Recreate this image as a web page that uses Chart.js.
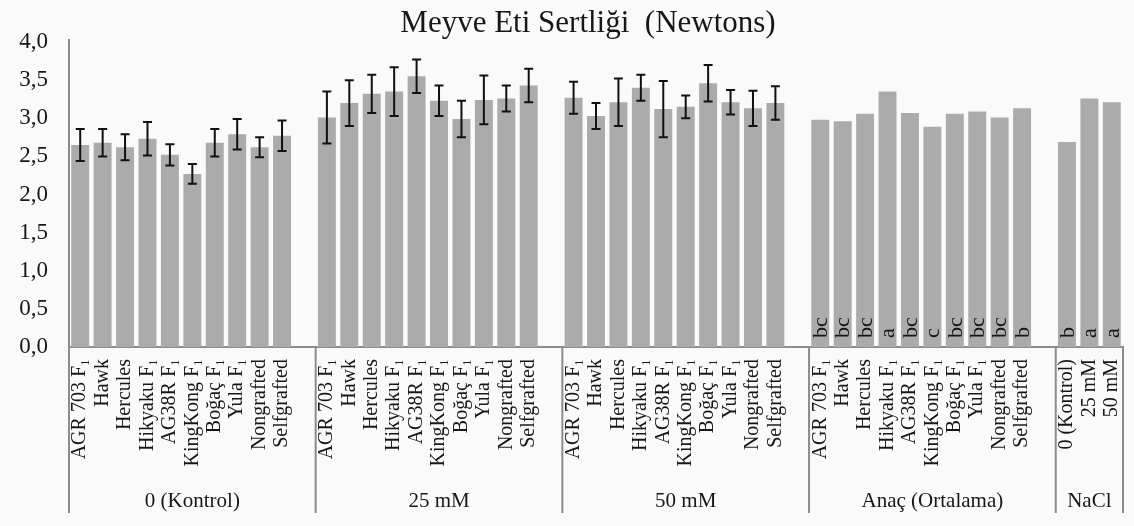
<!DOCTYPE html>
<html>
<head>
<meta charset="utf-8">
<script src="https://cdn.jsdelivr.net/npm/chart.js@4.4.1/dist/chart.umd.min.js"></script>
<style>
  html, body { margin: 0; padding: 0; background: #fafafa; }
  canvas { display: block; }
</style>
</head>
<body>
<canvas id="c" width="1134" height="526"></canvas>
<script>
// ---- data ----
const chartTitle = 'Meyve Eti Sertliği  (Newtons)';
const groupNames = ['0 (Kontrol)', '25 mM', '50 mM', 'Anaç (Ortalama)', 'NaCl'];
const rootstocks = ['AGR 703 F₁', 'Hawk', 'Hercules', 'Hikyaku F₁', 'AG38R F₁', 'KingKong F₁', 'Boğaç F₁', 'Yula F₁', 'Nongrafted', 'Selfgrafted'];
const naclLevels = ['0 (Kontrol)', '25 mM', '50 mM'];
const yTicks = [0, 0.5, 1, 1.5, 2, 2.5, 3, 3.5, 4];

const kontrolValues = [2.65, 2.68, 2.62, 2.73, 2.52, 2.27, 2.68, 2.79, 2.62, 2.77];
const kontrolErrors = [0.21, 0.18, 0.17, 0.22, 0.14, 0.13, 0.18, 0.20, 0.13, 0.20];
const mM25Values = [3.01, 3.20, 3.32, 3.35, 3.55, 3.23, 2.99, 3.24, 3.26, 3.43];
const mM25Errors = [0.34, 0.30, 0.25, 0.32, 0.22, 0.20, 0.24, 0.32, 0.17, 0.22];
const mM50Values = [3.27, 3.03, 3.21, 3.40, 3.12, 3.15, 3.46, 3.21, 3.13, 3.20];
const mM50Errors = [0.21, 0.17, 0.31, 0.17, 0.37, 0.15, 0.24, 0.16, 0.23, 0.22];
const rootstockMeans = [2.98, 2.96, 3.06, 3.35, 3.07, 2.89, 3.06, 3.09, 3.01, 3.13];
const rootstockLetters = ['bc', 'bc', 'bc', 'a', 'bc', 'c', 'bc', 'bc', 'bc', 'b'];
const naclMeans = [2.69, 3.26, 3.21];
const naclLetters = ['b', 'a', 'a'];

// ---- build flat category list (with a blank slot after each group) ----
const groupCats = [rootstocks, rootstocks, rootstocks, rootstocks, naclLevels];
const groupVals = [kontrolValues, mM25Values, mM50Values, rootstockMeans, naclMeans];
const groupErrs = [kontrolErrors, mM25Errors, mM50Errors, null, null];
const groupLets = [null, null, null, rootstockLetters, naclLetters];

const labels = [], values = [], errors = [], letters = [], groupRanges = [];
groupCats.forEach((cats, g) => {
  const start = labels.length;
  cats.forEach((c, i) => {
    labels.push(c);
    values.push(groupVals[g][i]);
    errors.push(groupErrs[g] ? groupErrs[g][i] : null);
    letters.push(groupLets[g] ? groupLets[g][i] : null);
  });
  if (g < groupCats.length - 1) {
    labels.push(''); values.push(null); errors.push(null); letters.push(null);
  }
  groupRanges.push([start, labels.length - 1]);
});

const SERIF = '"Liberation Serif", "Times New Roman", serif';
const AXIS_COLOR = '#8c8c8c';
const TEXT_COLOR = '#161616';

const overlay = {
  id: 'overlay',
  afterDatasetsDraw(chart) {
    const ctx = chart.ctx;
    const meta = chart.getDatasetMeta(0);
    const ys = chart.scales.y;
    ctx.save();
    // error bars
    ctx.strokeStyle = '#111';
    ctx.lineWidth = 2;
    errors.forEach((e, i) => {
      if (e == null || values[i] == null) return;
      const x = meta.data[i].x;
      const yt = ys.getPixelForValue(values[i] + e);
      const yb = ys.getPixelForValue(values[i] - e);
      ctx.beginPath();
      ctx.moveTo(x, yt); ctx.lineTo(x, yb);
      ctx.moveTo(x - 4.5, yt); ctx.lineTo(x + 4.5, yt);
      ctx.moveTo(x - 4.5, yb); ctx.lineTo(x + 4.5, yb);
      ctx.stroke();
    });
    // significance letters
    ctx.fillStyle = TEXT_COLOR;
    ctx.font = '22px ' + SERIF;
    letters.forEach((l, i) => {
      if (!l) return;
      const x = meta.data[i].x;
      ctx.save();
      ctx.translate(x + 1, chart.chartArea.bottom - 9);
      ctx.rotate(-Math.PI / 2);
      ctx.textAlign = 'left';
      ctx.textBaseline = 'middle';
      ctx.fillText(l, 0, 0);
      ctx.restore();
    });
    ctx.restore();
  },
  afterDraw(chart) {
    const ctx = chart.ctx;
    const xs = chart.scales.x;
    const area = chart.chartArea;
    const step = xs.getPixelForValue(1) - xs.getPixelForValue(0);
    ctx.save();
    // title
    ctx.fillStyle = TEXT_COLOR;
    ctx.font = '31px ' + SERIF;
    ctx.textAlign = 'center';
    ctx.textBaseline = 'alphabetic';
    ctx.fillText(chartTitle, 588, 32);
    // y axis line extension to top
    ctx.strokeStyle = AXIS_COLOR;
    ctx.lineWidth = 2;
    ctx.beginPath();
    ctx.moveTo(area.left, 39); ctx.lineTo(area.left, area.top);
    ctx.stroke();
    // group separators and labels
    ctx.font = '21px ' + SERIF;
    const bounds = [];
    groupRanges.forEach(([s, e], g) => {
      const x0 = xs.getPixelForValue(s) - step / 2;
      const x1 = xs.getPixelForValue(e) + step / 2;
      bounds.push(x0);
      if (g === groupRanges.length - 1) bounds.push(x1);
      ctx.fillText(groupNames[g], (x0 + x1) / 2, 507);
    });
    ctx.beginPath();
    bounds.forEach(b => { ctx.moveTo(b, area.bottom); ctx.lineTo(b, 513); });
    ctx.stroke();
    ctx.restore();
  }
};

new Chart(document.getElementById('c'), {
  type: 'bar',
  data: {
    labels: labels,
    datasets: [{
      data: values,
      backgroundColor: '#ababab',
      borderWidth: 0,
      barPercentage: 1,
      categoryPercentage: 0.8
    }]
  },
  options: {
    responsive: false,
    animation: false,
    devicePixelRatio: 1,
    layout: { padding: { top: 42, right: 11, bottom: 0, left: 0 } },
    plugins: { legend: { display: false }, tooltip: { enabled: false }, title: { display: false } },
    scales: {
      x: {
        grid: { display: false, drawTicks: false },
        border: { display: true, color: AXIS_COLOR, width: 2 },
        ticks: {
          autoSkip: false, maxRotation: 90, minRotation: 90, padding: 12,
          color: TEXT_COLOR, font: { family: SERIF, size: 20 }
        },
        afterFit(scale) { scale.height = 179; scale.paddingLeft = 0; scale.paddingRight = 0; }
      },
      y: {
        min: 0, max: 4,
        grid: { display: false, drawTicks: false },
        border: { display: true, color: AXIS_COLOR, width: 2 },
        afterBuildTicks(scale) { scale.ticks = yTicks.map(v => ({ value: v })); },
        ticks: {
          padding: 21, color: TEXT_COLOR, font: { family: SERIF, size: 23 },
          callback: v => Number(v).toFixed(1).replace('.', ',')
        },
        afterFit(scale) { scale.width = 69; scale.paddingTop = 0; scale.paddingBottom = 0; }
      }
    }
  },
  plugins: [overlay]
});
</script>
</body>
</html>
